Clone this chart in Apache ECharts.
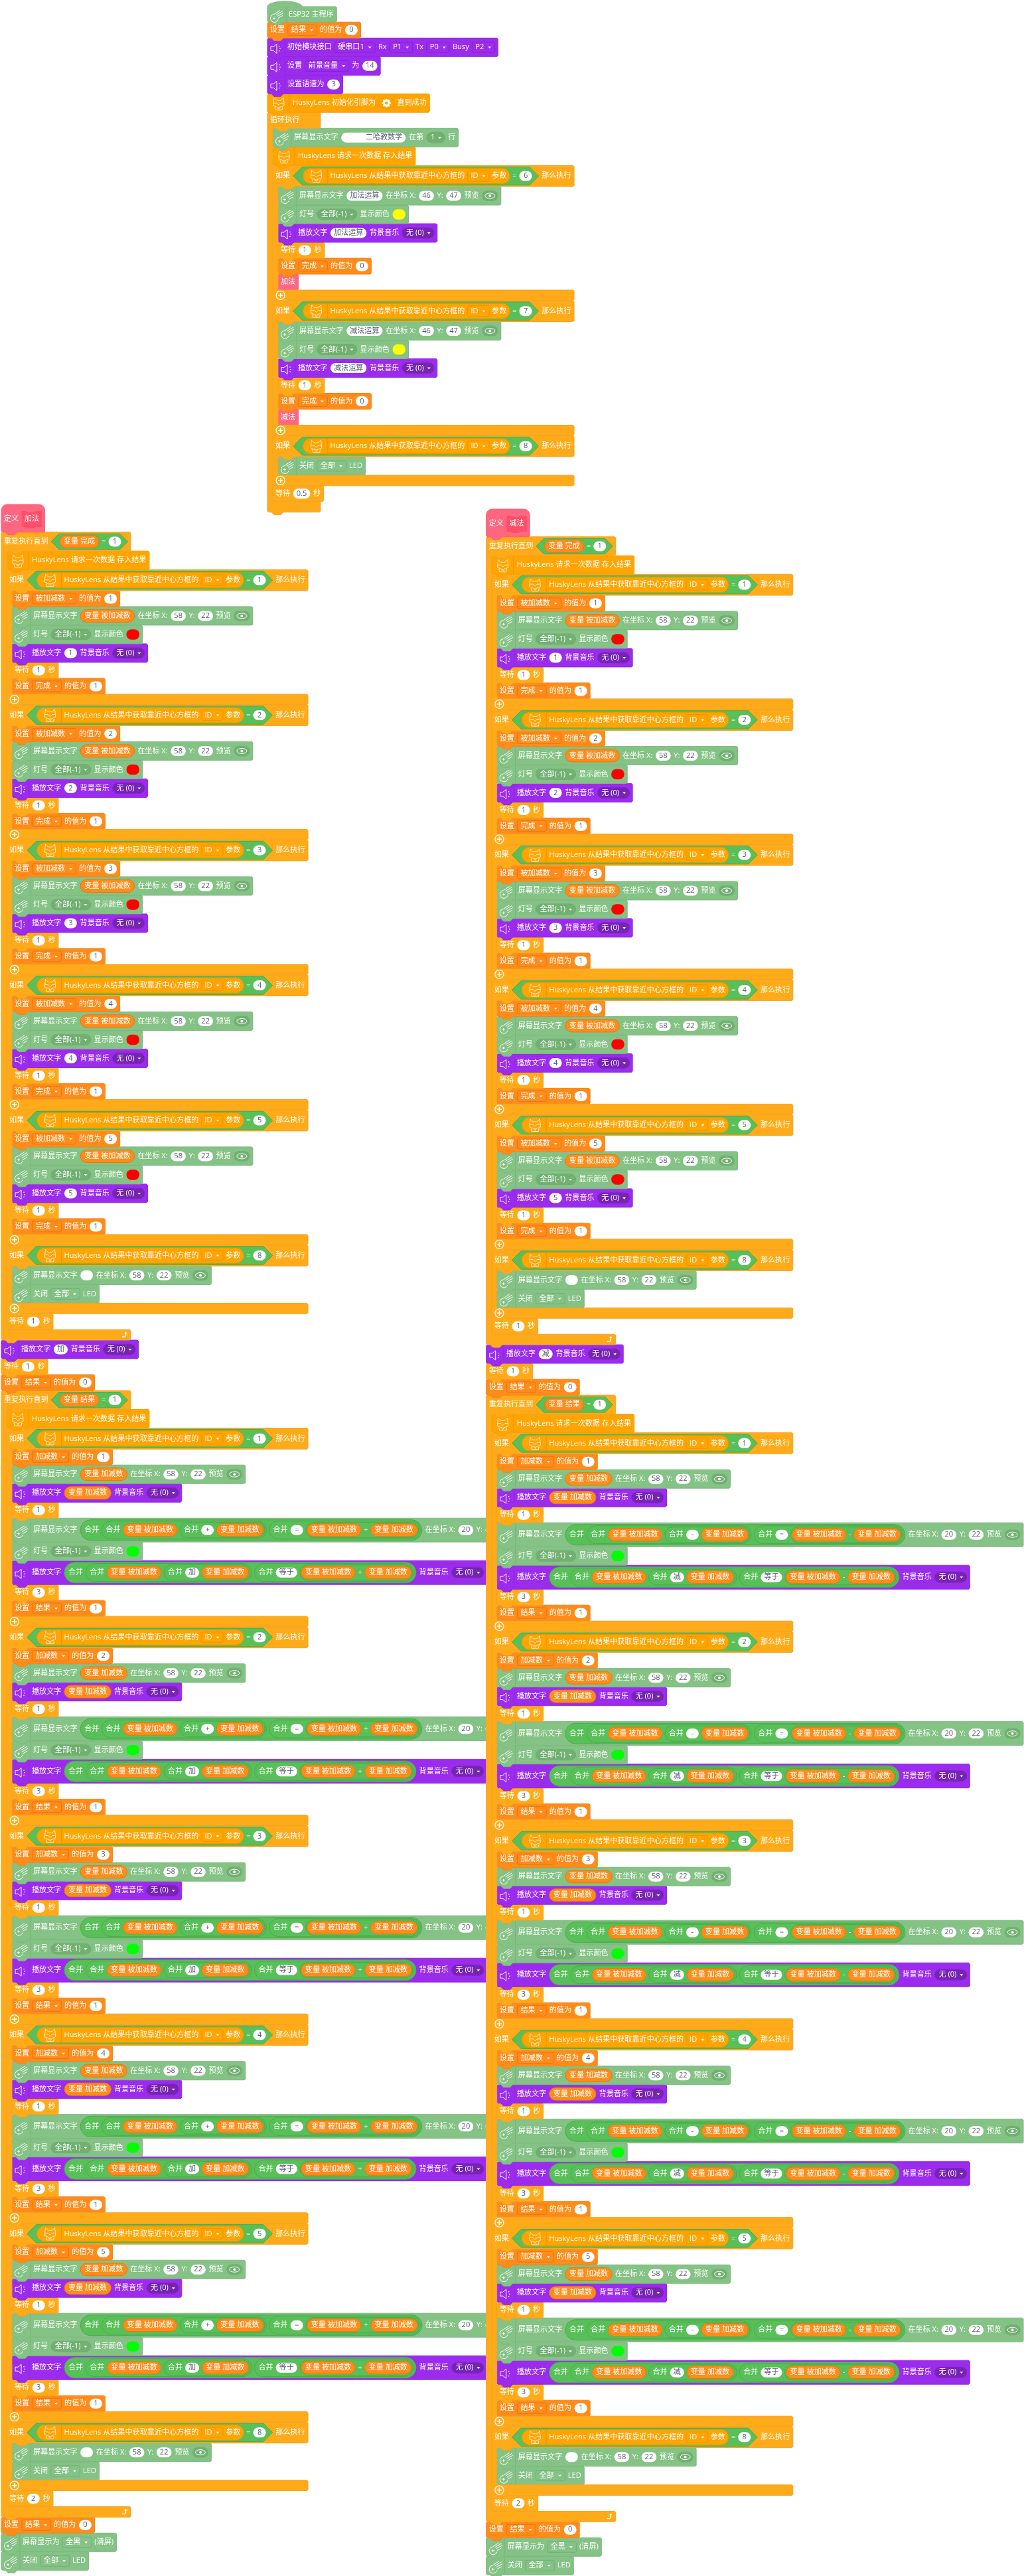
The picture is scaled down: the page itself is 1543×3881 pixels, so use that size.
<!DOCTYPE html>
<html>
<head>
<meta charset="utf-8">
<title>ESP32 主程序</title>
<script src="https://cdn.jsdelivr.net/npm/echarts@6/dist/echarts.min.js"></script>
<style>
html, body { margin: 0; padding: 0; background: #fff; }
#main { width: 1543px; height: 3881px; }
</style>
</head>
<body>
<div id="main"></div>
<script>
// values
var mainIfIds = [6, 7];
var mainIfWords = ['加法', '减法'];
var clearId = 8;
var digitIds = [1, 2, 3, 4, 5];
var headlineText = '\u00a0\u00a0\u00a0\u00a0\u00a0\u00a0\u00a0\u00a0\u00a0\u00a0\u00a0二哈教数学';
var titleXY = [46, 47];
var digitXY = [58, 22];
var sumXY = [20, 22];
var volume = 14;
var speechRate = 3;
var mainWait = 0.5;
var firstLoopWait = 1;
var secondLoopWait = 2;
var procAdd = ['加法', '+', '加'];
var procSub = ['减法', '-', '减'];

var FONT = '11.1px "Open Sans","Noto Sans CJK SC"';
var TEXT_DARK = '#575E75';
var measureCtx = document.createElement('canvas').getContext('2d');
function textW(s) {
	measureCtx.font = FONT;
	return measureCtx.measureText(s).width;
}

// block looks
var STYLES = {
	control: { fill: '#FFAB19', stroke: '#F0A32E', h: 24, start: 4, dd: '#FFAB19', ddLine: '#E89A12' },
	data: { fill: '#FF8C1A', stroke: '#F0851C', h: 24, start: 4, dd: '#FF8C1A', ddLine: '#E6780F' },
	display: { fill: '#85C285', stroke: '#7DB87D', h: 28, start: 32, divider: 28, icon: 'meteor', dd: '#85C285', ddLine: '#73AF73', solid: '#72B072' },
	sound: { fill: '#9B2CEE', stroke: '#9027DC', h: 28, start: 30, divider: 26, icon: 'speaker', dd: '#9B2CEE', ddLine: '#8424C9', solid: '#7525B0' },
	husky: { fill: '#FFA400', stroke: '#F59F0E', h: 28, start: 38, divider: 33, icon: 'fox', dd: '#FFA400', ddLine: '#EB9600' },
	proc: { fill: '#FF6680', stroke: '#F56079', h: 24, start: 4, dd: '#FF6680', ddLine: '#FF4D6A' }
};
var IF_H = 31.7;
var FOOT_H = 15.8;
var INDENT = 8;
var ROW_GAP = 4.6;
var INNER_GAP = 4;

// tokens
function dd(s) { return { t: 'dd', s: s }; }
function sel(s) { return { t: 'sel', s: s }; }
function num(s) { return { t: 'num', s: String(s) }; }
function vari(s) { return { t: 'var', s: '变量 ' + s }; }
function colour(c) { return { t: 'colour', c: c }; }
function join() { return { t: 'oval', kids: ['合并'].concat([].slice.call(arguments)), padL: 6, padR: 2.5 }; }
function arith(a, op, b) { return { t: 'oval', kids: [a, op, b], padL: 2, padR: 2 }; }
function hex() { return { t: 'hex', kids: [].slice.call(arguments) }; }
var EYE = { t: 'eye' };
var GEAR = { t: 'gear' };
var FOX_ID = { t: 'huskyId' };
var ID_DD = dd('ID');
var HUSKY_LABEL = 'HuskyLens 从结果中获取靠近中心方框的';

function block(kind, tokens) { return { kind: kind, tokens: tokens }; }
function stack(kind, head, body, opts) {
	return { kind: kind, tokens: head, body: body, foot: (opts && opts.foot) || '', minW: (opts && opts.minW) || 0, ifHead: opts && opts.ifHead };
}

function idHead(id) {
	return ['如果', hex(FOX_ID, '=', num(id)), '那么执行'];
}
function ifBlock(id, body) {
	return stack('control', idHead(id), body, { foot: 'plus', ifHead: true });
}
function waitBlock(n) { return block('control', ['等待', num(n), '秒']); }
function setBlock(name, n) { return block('data', ['设置', dd(name), '的值为', num(n)]); }
function screenAt(content, xy) {
	return block('display', ['屏幕显示文字', content, '在坐标 X:', num(xy[0]), 'Y:', num(xy[1]), '预览', EYE]);
}
function ledBlock(c) { return block('display', ['灯号', sel('全部(-1)'), '显示颜色', colour(c)]); }
function speak(content) { return block('sound', ['播放文字', content, '背景音乐', sel('无 (0)')]); }
function ledOff() { return block('display', ['关闭', dd('全部'), 'LED']); }
function requestBlock() { return block('husky', ['HuskyLens 请求一次数据 存入结果']); }
function clearBlock() { return ifBlock(clearId, [screenAt(num(''), digitXY), ledOff()]); }

function buildMain() {
	var body = [
		block('display', ['屏幕显示文字', num(headlineText), '在第', sel('1'), '行']),
		requestBlock()
	];
	mainIfIds.forEach(function (id, i) {
		var word = mainIfWords[i];
		body.push(ifBlock(id, [
			screenAt(num(word + '运算'), titleXY),
			ledBlock('#FFFF00'),
			speak(num(word + '运算')),
			waitBlock(1),
			setBlock('完成', 0),
			block('proc', [word])
		]));
	});
	body.push(ifBlock(clearId, [ledOff()]));
	body.push(waitBlock(mainWait));
	return [
		{ kind: 'display', tokens: ['ESP32 主程序'], hat: 'cap' },
		setBlock('结果', 0),
		block('sound', ['初始模块接口', dd('硬串口1'), 'Rx', dd('P1'), 'Tx', dd('P0'), 'Busy', dd('P2')]),
		block('sound', ['设置', dd('前景音量'), '为', num(volume)]),
		block('sound', ['设置语速为', num(speechRate)]),
		block('husky', ['HuskyLens 初始化引脚为', GEAR, '直到成功']),
		stack('control', ['循环执行'], body, { minW: 80 })
	];
}

function buildProc(p) {
	var name = p[0], op = p[1], word = p[2];
	var first = vari('被加减数'), second = vari('加减数');
	var sum = arith(first, op, second);
	var screenJoin = join(join(first, join(num(op), second)), join(num('='), sum));
	var voiceJoin = join(join(first, join(num(word), second)), join(num('等于'), sum));

	var loop1 = [requestBlock()];
	digitIds.forEach(function (id) {
		loop1.push(ifBlock(id, [
			setBlock('被加减数', id),
			screenAt(first, digitXY),
			ledBlock('#FF0000'),
			speak(num(id)),
			waitBlock(1),
			setBlock('完成', 1)
		]));
	});
	loop1.push(clearBlock());
	loop1.push(waitBlock(firstLoopWait));

	var loop2 = [requestBlock()];
	digitIds.forEach(function (id) {
		loop2.push(ifBlock(id, [
			setBlock('加减数', id),
			screenAt(second, digitXY),
			speak(second),
			waitBlock(1),
			screenAt(screenJoin, sumXY),
			ledBlock('#00FF00'),
			speak(voiceJoin),
			waitBlock(3),
			setBlock('结果', 1)
		]));
	});
	loop2.push(clearBlock());
	loop2.push(waitBlock(secondLoopWait));

	return [
		{ kind: 'proc', tokens: ['定义', { t: 'procName', s: name }], hat: 'define' },
		stack('control', ['重复执行直到', hex(vari('完成'), '=', num(1))], loop1, { foot: 'arrow' }),
		speak(num(word)),
		waitBlock(1),
		setBlock('结果', 0),
		stack('control', ['重复执行直到', hex(vari('结果'), '=', num(1))], loop2, { foot: 'arrow' }),
		setBlock('结果', 0),
		block('display', ['屏幕显示为', dd('全黑'), '(清屏)']),
		ledOff()
	];
}

// token sizes
function size(tok) {
	if (typeof tok === 'string') { return { w: textW(tok), h: 14 }; }
	if (tok.size) { return tok.size; }
	var r;
	switch (tok.t) {
		case 'dd':
		case 'sel': r = { w: textW(tok.s) + 21.5, h: 16 }; break;
		case 'num': r = { w: Math.max(19, textW(tok.s) + 10), h: 15 }; break;
		case 'var': r = { w: textW(tok.s) + 12, h: 19 }; break;
		case 'colour': r = { w: 19.5, h: 15.5 }; break;
		case 'eye': r = { w: 24, h: 16 }; break;
		case 'gear': r = { w: 23, h: 16 }; break;
		case 'procName': r = { w: textW(tok.s) + 8, h: 24 }; break;
		case 'huskyId':
			r = { w: 41 + textW(HUSKY_LABEL) + INNER_GAP + size(ID_DD).w + INNER_GAP + textW('参数') + 5, h: 23 };
			break;
		case 'oval':
		case 'hex':
			var w = 0, h = 0;
			tok.kids.forEach(function (k, i) {
				var s = size(k);
				w += s.w + (i ? INNER_GAP : 0);
				h = Math.max(h, s.h);
			});
			if (tok.t === 'oval') {
				r = { w: w + tok.padL + tok.padR, h: h + 4 };
			} else {
				var hh = h + 4.5;
				r = { w: w + hh / 2 + 1 + 10, h: hh };
			}
			break;
	}
	tok.size = r;
	return r;
}

function rowWidth(tokens, start) {
	var w = start;
	tokens.forEach(function (k, i) { w += size(k).w + (i ? ROW_GAP : 0); });
	return w + 4.5;
}
function rowHeight(st, tokens) {
	var h = st.h;
	tokens.forEach(function (k) { h = Math.max(h, size(k).h + 5); });
	return h;
}

// flatten a column into a list of placed blocks, top to bottom
function place(list, x, y, out) {
	list.forEach(function (b) {
		var st = STYLES[b.kind];
		var w = Math.max(rowWidth(b.tokens, st.start), b.minW || 0);
		var item = { b: b, st: st, x: x, y: y, w: w };
		out.push(item);
		if (b.hat === 'cap') {
			item.h = 31.3;
			y += item.h;
		} else if (b.hat === 'define') {
			item.h = 41.7;
			y += item.h;
		} else if (b.body) {
			item.h = b.ifHead ? IF_H : rowHeight(st, b.tokens);
			var bottom = place(b.body, x + INDENT, y + item.h, out);
			item.footY = bottom;
			y = bottom + FOOT_H;
		} else {
			item.h = rowHeight(st, b.tokens);
			y += item.h;
		}
	});
	return y;
}

var placedMain = [], placedAdd = [], placedSub = [];
place(buildMain(), 403, 2, placedMain);
place(buildProc(procAdd), 2, 760, placedAdd);
place(buildProc(procSub), 732.7, 767, placedSub);
// earlier blocks sit on top of later ones so their tabs show
var placed = placedAdd.slice().reverse().concat(placedMain.slice().reverse(), placedSub.slice().reverse());

var seriesData = placed.map(function (p, i) { return [p.x, p.y, i]; });

// shapes
function tabPts(pts, off, y) {
	pts.push([off + 24, y], [off + 20, y + 4], [off + 10, y + 4], [off + 6, y]);
}
function outline(p) {
	var c = 1.5, w = p.w, h = p.h, pts;
	if (p.b.hat === 'cap') {
		pts = [];
		for (var i = 0; i <= 12; i++) {
			var a = Math.PI * (1 - i / 12);
			pts.push([26 + 26 * Math.cos(a), 8 - 8 * Math.sin(a)]);
		}
		pts.push([w - c, 8], [w, 8 + c], [w, h - c], [w - c, h]);
		tabPts(pts, 0, h);
		pts.push([c, h], [0, h - c]);
		return pts;
	}
	if (p.b.hat === 'define') {
		pts = [];
		for (var k = 0; k <= 6; k++) {
			var t = Math.PI / 2 * k / 6;
			pts.push([9 - 9 * Math.cos(t), 9 - 9 * Math.sin(t)]);
		}
		for (k = 0; k <= 6; k++) {
			t = Math.PI / 2 * k / 6;
			pts.push([w - 9 + 9 * Math.sin(t), 9 - 9 * Math.cos(t)]);
		}
		pts.push([w, h - c], [w - c, h]);
		tabPts(pts, 0, h);
		pts.push([c, h], [0, h - c]);
		return pts;
	}
	pts = [[c, 0], [w - c, 0], [w, c], [w, h - c], [w - c, h]];
	if (p.b.body) {
		var fy = p.footY - p.y, fb = fy + FOOT_H;
		tabPts(pts, INDENT, h);
		pts.push([INDENT, h], [INDENT, fy], [w - c, fy], [w, fy + c], [w, fb - c], [w - c, fb]);
		tabPts(pts, 0, fb);
		pts.push([c, fb], [0, fb - c], [0, c]);
		return pts;
	}
	tabPts(pts, 0, h);
	pts.push([c, h], [0, h - c], [0, c]);
	return pts;
}

function txt(s, x, cy, fill) {
	return {
		type: 'text',
		style: { text: s, x: x, y: cy, fill: fill || '#fff', font: FONT, textAlign: 'left', textVerticalAlign: 'middle', verticalAlign: 'middle' }
	};
}
function roundRect(x, y, w, h, r, fill, line) {
	return { type: 'rect', shape: { x: x, y: y, width: w, height: h, r: r }, style: { fill: fill, stroke: line || null, lineWidth: 1 } };
}
function stroke(type, shape, width, col) {
	return { type: type, shape: shape, style: { fill: null, stroke: col || '#fff', lineWidth: width || 1 } };
}
function arrowDown(x, cy, out) {
	out.push({ type: 'polygon', shape: { points: [[x - 2.5, cy - 1], [x + 2.5, cy - 1], [x, cy + 1.8]] }, style: { fill: '#fff' } });
}

function drawIcon(name, x, cy, out) {
	if (name === 'meteor') {
		out.push(stroke('arc', { cx: x - 3.5, cy: cy + 4, r: 6, startAngle: 0.3, endAngle: 4.6 }, 1));
		out.push(stroke('line', { x1: x - 6, y1: cy + 4, x2: x - 2, y2: cy + 4 }, 1));
		out.push(stroke('line', { x1: x - 4, y1: cy + 2, x2: x - 4, y2: cy + 6 }, 1));
		out.push(stroke('polyline', { points: [[x - 4, cy - 2], [x + 5, cy - 8]] }, 1));
		out.push(stroke('polyline', { points: [[x - 1, cy - 1], [x + 9, cy - 7]] }, 1));
		out.push(stroke('polyline', { points: [[x + 1, cy + 1], [x + 10, cy - 4]] }, 1));
		out.push(stroke('polyline', { points: [[x + 2, cy + 4], [x + 9, cy]] }, 1));
	} else if (name === 'speaker') {
		out.push(stroke('polygon', { points: [[x - 8, cy - 3], [x - 4, cy - 3], [x + 1, cy - 7], [x + 1, cy + 7], [x - 4, cy + 3], [x - 8, cy + 3]] }, 1));
		[[5, -3.5], [6, 0], [5, 3.5]].forEach(function (d) {
			out.push({ type: 'circle', shape: { cx: x + d[0], cy: cy + d[1], r: 0.8 }, style: { fill: '#fff' } });
		});
	} else if (name === 'fox') {
		var col = 'rgba(255,255,255,0.9)';
		out.push(stroke('polygon', { points: [[x - 8, cy - 2], [x - 7, cy - 10], [x - 3, cy - 6], [x + 3, cy - 6], [x + 7, cy - 10], [x + 8, cy - 2], [x + 8, cy + 2], [x, cy + 5], [x - 8, cy + 2]] }, 0.9, col));
		out.push(stroke('polyline', { points: [[x - 8, cy - 2], [x - 3, cy - 2], [x, cy + 1], [x + 3, cy - 2], [x + 8, cy - 2]] }, 0.9, col));
		out.push(stroke('polyline', { points: [[x - 6, cy + 4], [x - 5, cy + 8.5], [x + 5, cy + 8.5], [x + 6, cy + 4]] }, 0.9, col));
		out.push(stroke('polyline', { points: [[x - 2, cy + 5.5], [x, cy + 7], [x + 2, cy + 5.5]] }, 0.9, col));
	}
}

function drawToken(tok, x, cy, st, out) {
	if (typeof tok === 'string') {
		out.push(txt(tok, x, cy));
		return;
	}
	var s = size(tok);
	var top = cy - s.h / 2;
	switch (tok.t) {
		case 'dd':
			out.push(roundRect(x, top, s.w, s.h, 2.5, st.dd, st.ddLine));
			out.push(txt(tok.s, x + 5, cy));
			arrowDown(x + s.w - 8, cy, out);
			break;
		case 'sel':
			out.push(roundRect(x, top, s.w, s.h, 8, st.solid, st.ddLine));
			out.push(txt(tok.s, x + 6, cy));
			arrowDown(x + s.w - 8, cy, out);
			break;
		case 'num':
			out.push(roundRect(x, top, s.w, s.h, 7.5, '#fff'));
			out.push(txt(tok.s, x + (s.w - textW(tok.s)) / 2, cy, TEXT_DARK));
			break;
		case 'var':
			out.push(roundRect(x, top, s.w, s.h, 9.5, '#FF8C1A', '#E6780F'));
			out.push(txt(tok.s, x + 6, cy));
			break;
		case 'colour':
			out.push(roundRect(x, top, s.w, s.h, 7.5, tok.c));
			break;
		case 'eye':
			out.push(roundRect(x, top, s.w, s.h, 8, st.solid));
			var upper = [], lower = [];
			for (var i = 0; i <= 8; i++) {
				var a = Math.PI * i / 8;
				upper.push([x + 12 - 7.5 * Math.cos(a), cy - 4 * Math.sin(a)]);
				lower.push([x + 12 + 7.5 * Math.cos(a), cy + 4 * Math.sin(a)]);
			}
			out.push(stroke('polygon', { points: upper.concat(lower) }, 1));
			out.push({ type: 'circle', shape: { cx: x + 12, cy: cy, r: 2 }, style: { fill: '#fff' } });
			break;
		case 'gear':
			out.push(roundRect(x, top, s.w, s.h, 8, st.dd, st.ddLine));
			for (var g = 0; g < 8; g++) {
				var ang = Math.PI * g / 4;
				out.push({ type: 'circle', shape: { cx: x + 11.5 + 4.8 * Math.cos(ang), cy: cy + 4.8 * Math.sin(ang), r: 1.8 }, style: { fill: '#fff' } });
			}
			out.push(stroke('circle', { cx: x + 11.5, cy: cy, r: 3.3 }, 2));
			break;
		case 'procName':
			var nw = s.w, py = cy - 12;
			out.push({ type: 'polygon', shape: { points: [[x, py], [x + 6, py], [x + 8, py + 2], [x + 18, py + 2], [x + 20, py], [nw + x, py], [nw + x, py + 24], [x + 20, py + 24], [x + 18, py + 26], [x + 8, py + 26], [x + 6, py + 24], [x, py + 24]] }, style: { fill: '#FF4D6A' } });
			out.push(txt(tok.s, x + 4, cy));
			break;
		case 'huskyId':
			out.push(roundRect(x, top, s.w, s.h, 11.5, STYLES.husky.fill, '#EB9600'));
			drawIcon('fox', x + 20, cy + 1, out);
			out.push(stroke('line', { x1: x + 37, y1: top, x2: x + 37, y2: top + s.h }, 1, '#EB9600'));
			var cur = x + 41;
			out.push(txt(HUSKY_LABEL, cur, cy));
			cur += textW(HUSKY_LABEL) + INNER_GAP;
			drawToken(ID_DD, cur, cy, STYLES.husky, out);
			cur += size(ID_DD).w + INNER_GAP;
			out.push(txt('参数', cur, cy));
			break;
		case 'oval':
			out.push(roundRect(x, top, s.w, s.h, s.h / 2, '#59C059', '#4CAA4C'));
			var ox = x + tok.padL;
			tok.kids.forEach(function (k) {
				drawToken(k, ox, cy, st, out);
				ox += size(k).w + INNER_GAP;
			});
			break;
		case 'hex':
			var tip = s.h / 2;
			out.push({
				type: 'polygon',
				shape: { points: [[x, cy], [x + tip, top], [x + s.w - tip, top], [x + s.w, cy], [x + s.w - tip, top + s.h], [x + tip, top + s.h]] },
				style: { fill: '#59C059', stroke: '#4CAA4C', lineWidth: 1 }
			});
			var hx = x + tip + 1;
			tok.kids.forEach(function (k) {
				drawToken(k, hx, cy, st, out);
				hx += size(k).w + INNER_GAP;
			});
			break;
	}
}

function renderBlock(params, api) {
	var p = placed[api.value(2)];
	var origin = api.coord([api.value(0), api.value(1)]);
	var st = p.st;
	var kids = [{ type: 'polygon', shape: { points: outline(p) }, style: { fill: st.fill, stroke: st.stroke, lineWidth: 1 } }];
	var cy = p.h / 2;
	if (p.b.hat === 'cap') { cy = 20; }
	if (p.b.hat === 'define') { cy = 22; }
	if (st.icon) {
		var iconX = st.icon === 'speaker' ? 13 : (st.icon === 'fox' ? 17 : 14);
		drawIcon(st.icon, iconX, cy + (st.icon === 'meteor' ? 1.5 : 2), kids);
		kids.push(stroke('line', { x1: st.divider, y1: p.b.hat ? 8 : 1, x2: st.divider, y2: p.h - 1 }, 1, 'rgba(0,0,0,0.08)'));
	}
	var x = st.start;
	p.b.tokens.forEach(function (tok) {
		drawToken(tok, x, cy, st, kids);
		x += size(tok).w + ROW_GAP;
	});
	if (p.b.foot === 'plus') {
		var my = p.footY - p.y + FOOT_H / 2;
		kids.push(stroke('circle', { cx: 11.7, cy: my, r: 6.5 }, 1.3));
		kids.push(stroke('line', { x1: 8, y1: my, x2: 15.4, y2: my }, 1.5));
		kids.push(stroke('line', { x1: 11.7, y1: my - 3.7, x2: 11.7, y2: my + 3.7 }, 1.5));
	} else if (p.b.foot === 'arrow') {
		var ay = p.footY - p.y + FOOT_H / 2, ax = p.w - 9;
		kids.push(stroke('polyline', { points: [[ax - 4, ay + 3], [ax, ay + 3], [ax + 1.5, ay + 1], [ax + 1.5, ay - 2]] }, 1.5));
		kids.push({ type: 'polygon', shape: { points: [[ax - 1, ay - 2], [ax + 4, ay - 2], [ax + 1.5, ay - 5]] }, style: { fill: '#fff' } });
	}
	return { type: 'group', x: origin[0], y: origin[1], children: kids };
}

var myChart = echarts.init(document.getElementById('main'), null, { renderer: 'canvas' });
var option = {
	animation: false,
	backgroundColor: '#fff',
	grid: { left: 0, right: 0, top: 0, bottom: 0 },
	xAxis: { type: 'value', min: 0, max: 1543, show: false },
	yAxis: { type: 'value', min: 0, max: 3881, inverse: true, show: false },
	series: [{
		type: 'custom',
		coordinateSystem: 'cartesian2d',
		clip: false,
		silent: true,
		progressive: 0,
		encode: { x: 0, y: 1 },
		data: seriesData,
		renderItem: renderBlock
	}]
};
myChart.setOption(option);
</script>
</body>
</html>
